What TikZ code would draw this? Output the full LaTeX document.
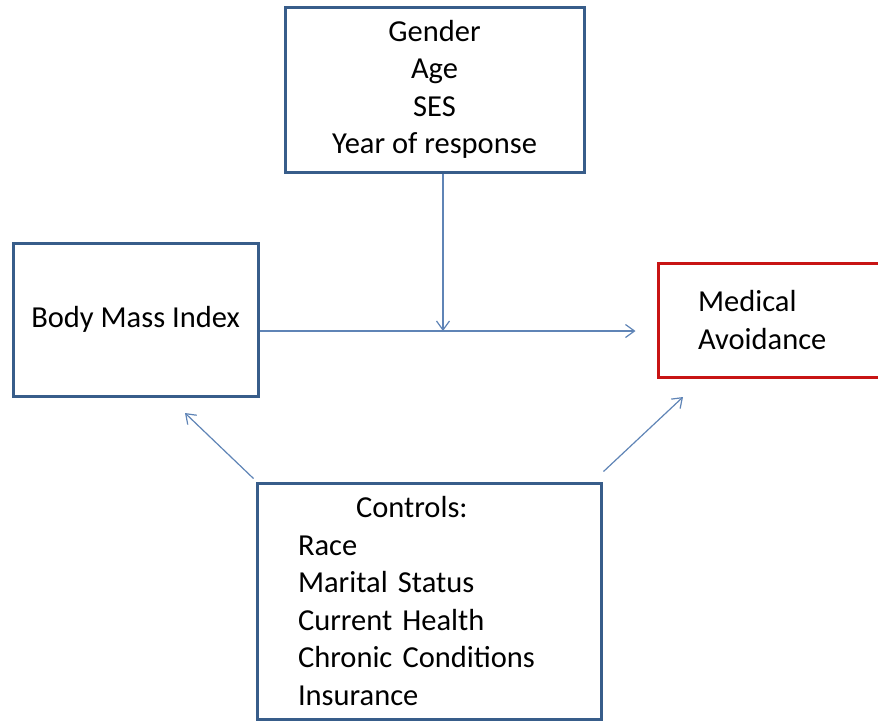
\documentclass[tikz,border=0pt]{standalone}
\usepackage{fontspec}
\setmainfont{Carlito}
\usetikzlibrary{arrows.meta}
\definecolor{boxblue}{RGB}{56,93,138}
\definecolor{boxred}{RGB}{200,20,20}
\definecolor{arrowblue}{RGB}{95,132,182}
\begin{document}
\begin{tikzpicture}[x=1pt,y=-1pt,
	box/.style={draw=boxblue, line width=3pt, fill=white, inner ysep=0pt, font=\fontsize{30.5}{37.5}\selectfont},
	link/.style={draw=arrowblue, line width=1.2pt, -{Straight Barb[length=9pt,width=13pt]}}]
	\useasboundingbox (0,0) rectangle (878,721);
	\node (mod) [box, minimum width=299pt, minimum height=165pt, align=center] at (434.5,89.5) {Gender\\Age\\SES\\Year of response};
	\node (bmi) [box, minimum width=245pt, minimum height=153pt, align=center] at (135.5,319.5) {Body Mass Index};
	\node (avoid) [box, draw=boxred, minimum width=232pt, minimum height=114pt, inner xsep=40pt, text width=152pt, align=left] at (774,320) {Medical\\Avoidance};
	\node (ctrl) [box, minimum width=344pt, minimum height=236pt, inner xsep=41pt, text width=262pt, align=left] at (429,601) {\hspace*{58pt}Controls:\\Race\\Marital Status\\Current Health\\Chronic Conditions\\Insurance};
	\coordinate (m) at (443,331);
	\coordinate (t1) at (185,413);
	\coordinate (t2) at (683,397);
	\draw[link] ([yshift=-11.5pt]bmi.east) -- ([yshift=-11pt,xshift=-21pt]avoid.west);
	\draw[link] ([xshift=8.5pt]mod.south) -- (m);
	\draw[link] ([xshift=-2pt,yshift=3pt]ctrl.north west) -- (t1);
	\draw[link] ([xshift=1pt,yshift=10pt]ctrl.north east) -- (t2);
\end{tikzpicture}
\end{document}
